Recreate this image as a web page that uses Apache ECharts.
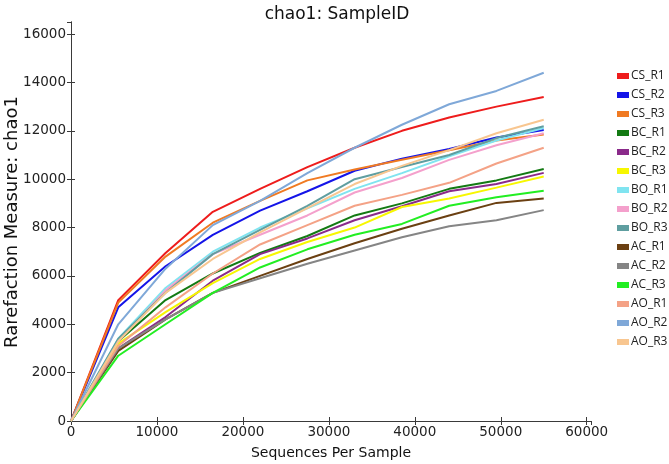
<!DOCTYPE html>
<html>
<head>
<meta charset="utf-8">
<script src="https://cdn.jsdelivr.net/npm/echarts@6/dist/echarts.min.js"></script>
<style>
  html, body { margin: 0; padding: 0; background: #fff; }
  #chart { width: 669px; height: 464px; }
</style>
</head>
<body>
<div id="chart"></div>
<script>
// sequencing depth per rarefaction step
var depths = [0, 5500, 11000, 16500, 22000, 27500, 33000, 38500, 44000, 49500, 55000];

var names = ['CS_R1', 'CS_R2', 'CS_R3', 'BC_R1', 'BC_R2', 'BC_R3', 'BO_R1', 'BO_R2', 'BO_R3',
             'AC_R1', 'AC_R2', 'AC_R3', 'AO_R1', 'AO_R2', 'AO_R3'];
var colors = ['#ee1c1c', '#1414e8', '#f07a22', '#137a13', '#8a2a8a', '#f7f700', '#80e4f0', '#f4a0cc', '#5f9ea0',
              '#6b4012', '#858585', '#22ee22', '#f4a286', '#7fa8d8', '#f8c690'];

var CS_R1 = [0, 5000, 6950, 8650, 9600, 10500, 11300, 12000, 12550, 13000, 13400];
var CS_R2 = [0, 4700, 6400, 7700, 8700, 9500, 10350, 10850, 11250, 11720, 12030];
var CS_R3 = [0, 4900, 6800, 8200, 9100, 9950, 10400, 10800, 11200, 11600, 11850];
var BC_R1 = [0, 3300, 5000, 6100, 6950, 7650, 8500, 9000, 9600, 9950, 10420];
var BC_R2 = [0, 3000, 4300, 5800, 6900, 7550, 8300, 8880, 9500, 9800, 10260];
var BC_R3 = [0, 3200, 4500, 5700, 6700, 7400, 8000, 8850, 9200, 9650, 10110];
var BO_R1 = [0, 3400, 5500, 7000, 8000, 8800, 9600, 10250, 10950, 11600, 12120];
var BO_R2 = [0, 3300, 5400, 6900, 7700, 8500, 9450, 10050, 10800, 11400, 11900];
var BO_R3 = [0, 3400, 5300, 6900, 7900, 8900, 10000, 10500, 11000, 11700, 12190];
var AC_R1 = [0, 2900, 4200, 5300, 6000, 6700, 7350, 7950, 8500, 9020, 9200];
var AC_R2 = [0, 3000, 4200, 5300, 5900, 6500, 7050, 7600, 8050, 8300, 8720];
var AC_R3 = [0, 2700, 4000, 5300, 6350, 7100, 7700, 8150, 8900, 9250, 9520];
var AO_R1 = [0, 3100, 4700, 6100, 7300, 8100, 8900, 9350, 9850, 10650, 11300];
var AO_R2 = [0, 4000, 6300, 8100, 9100, 10250, 11300, 12250, 13100, 13650, 14400];
var AO_R3 = [0, 3300, 5300, 6700, 7800, 8800, 9800, 10550, 11200, 11900, 12460];

var values = [CS_R1, CS_R2, CS_R3, BC_R1, BC_R2, BC_R3, BO_R1, BO_R2, BO_R3,
              AC_R1, AC_R2, AC_R3, AO_R1, AO_R2, AO_R3];

var font = 'DejaVu Sans';
var frame = '#3a3a3a';
var plain = function (v) { return String(v); };

var series = names.map(function (n, i) {
  return {
    name: n,
    type: 'line',
    data: depths.map(function (d, j) { return [d, values[i][j]]; }),
    showSymbol: false,
    symbol: 'none',
    lineStyle: { width: 2, color: colors[i] },
    itemStyle: { color: colors[i] },
    emphasis: { disabled: true },
    animation: false
  };
});

var chart = echarts.init(document.getElementById('chart'));
chart.setOption({
  backgroundColor: '#fff',
  animation: false,
  title: {
    text: 'chao1: SampleID',
    left: 332, top: 1, textAlign: 'center',
    textStyle: { fontFamily: font, fontSize: 17, fontWeight: 'normal', color: '#111' }
  },
  legend: {
    orient: 'vertical',
    left: 612, top: 64,
    icon: 'rect',
    itemWidth: 12, itemHeight: 6,
    itemGap: 5,
    textStyle: { fontFamily: 'Open Sans', fontSize: 12, lineHeight: 14, color: '#222', padding: [0, 0, 0, -3] },
    data: names
  },
  // y-axis title drawn separately so it can sit exactly where the original has it
  graphic: [{
    type: 'text', x: 12, y: 222, rotation: Math.PI / 2,
    style: {
      text: 'Rarefaction Measure: chao1',
      fontFamily: font, fontSize: 18, fill: '#111',
      align: 'center', verticalAlign: 'middle'
    }
  }],
  grid: { left: 71, right: 78, top: 22, bottom: 43, containLabel: false, outerBoundsMode: 'none' },
  xAxis: [{
    type: 'value', min: 0, max: 60500, interval: 10000,
    name: 'Sequences Per Sample', nameLocation: 'middle', nameGap: 25,
    nameTextStyle: { fontFamily: font, fontSize: 14, color: '#111' },
    axisLine: { show: true, lineStyle: { color: frame, width: 1 } },
    axisTick: { show: true, inside: true, length: 4, lineStyle: { color: frame } },
    axisLabel: { fontFamily: font, fontSize: 13.5, color: '#222', margin: 4, showMaxLabel: false, formatter: plain },
    splitLine: { show: false }
  }, {
    type: 'value', min: 0, max: 60500, interval: 10000, position: 'top',
    axisLine: { show: true, lineStyle: { color: frame, width: 1 } },
    axisTick: { show: true, inside: true, length: 4, lineStyle: { color: frame } },
    axisLabel: { show: false }, splitLine: { show: false }
  }],
  yAxis: [{
    type: 'value', min: 0, max: 16500, interval: 2000,
    axisLine: { show: true, lineStyle: { color: frame, width: 1 } },
    axisTick: { show: true, inside: true, length: 4, lineStyle: { color: frame } },
    axisLabel: { fontFamily: font, fontSize: 13.5, color: '#222', margin: 5, showMaxLabel: false, formatter: plain },
    splitLine: { show: false }
  }, {
    type: 'value', min: 0, max: 16500, interval: 2000, position: 'right',
    axisLine: { show: true, lineStyle: { color: frame, width: 1 } },
    axisTick: { show: true, inside: true, length: 4, lineStyle: { color: frame } },
    axisLabel: { show: false }, splitLine: { show: false }
  }],
  series: series
});
</script>
</body>
</html>
